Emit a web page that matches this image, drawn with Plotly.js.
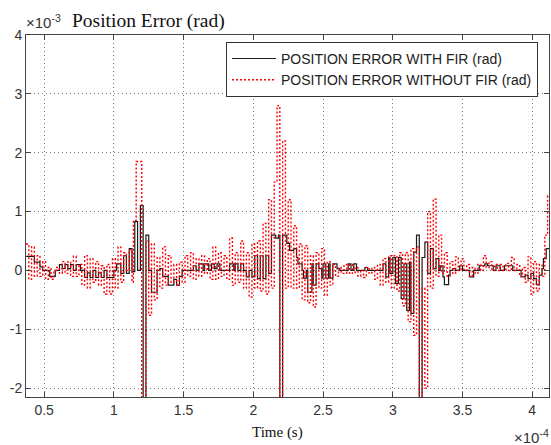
<!DOCTYPE html>
<html>
<head>
<meta charset="utf-8">
<script src="https://cdn.plot.ly/plotly-3.0.1.min.js"></script>
<style>html,body{margin:0;padding:0;background:#fff;}#chart{width:551px;height:445px;}</style>
</head>
<body>
<div id="chart"></div>
<script>
// Time in units of 1e-4 s, error in units of 1e-3 rad
var withFirTime = [
  0.37,0.43,0.47,0.49,0.54,0.58,0.61,0.63,0.65,0.67,
  0.69,0.71,0.73,0.76,0.79,0.81,0.83,0.85,0.87,0.89,
  0.91,0.93,0.95,1.00,1.02,1.05,1.07,1.09,1.11,1.13,
  1.15,1.17,1.19,1.21,1.23,1.25,1.27,1.31,1.33,1.35,
  1.39,1.43,1.45,1.47,1.49,1.57,1.59,1.61,1.64,1.65,
  1.68,1.70,1.72,1.74,1.76,1.83,1.86,1.87,1.89,1.91,
  1.93,1.95,1.97,1.99,2.01,2.03,2.05,2.07,2.09,2.11,
  2.13,2.16,2.18,2.19,2.21,2.24,2.26,2.29,2.31,2.32,
  2.35,2.36,2.38,2.39,2.42,2.43,2.45,2.47,2.49,2.50,
  2.52,2.54,2.55,2.57,2.60,2.62,2.68,2.70,2.72,2.74,
  2.80,2.82,2.93,2.95,2.97,2.98,3.00,3.02,3.04,3.06,
  3.08,3.10,3.12,3.13,3.15,3.17,3.19,3.21,3.23,3.25,
  3.27,3.29,3.31,3.33,3.34,3.36,3.37,3.40,3.41,3.43,
  3.45,3.48,3.50,3.55,3.58,3.62,3.66,3.68,3.72,3.74,
  3.77,3.80,3.86,3.92,3.95,3.97,3.99,4.01,4.03,4.05,
  4.07,4.08,4.10,4.12
];
var withFirError = [
  0.24,0.14,0.06,0,-0.1,0,0.1,0.03,0.1,0.03,
  0.1,0,0.1,0,-0.12,-0.04,-0.12,0,-0.12,-0.04,
  -0.12,0,-0.12,0,0.11,-0.05,0.25,-0.05,0.37,-0.02,
  0.83,0,1.10,-2.4,0.60,0,-0.37,0,0.03,-0.1,
  -0.25,-0.15,-0.25,-0.1,0,0.08,0,0.11,0,0.11,
  0,0.11,0.03,0.11,0,0.11,0,0.11,0,0.11,
  0,-0.11,0,-0.11,0.25,-0.14,0.25,-0.14,0.25,-0.05,
  0.60,0.55,0.60,-2.4,0.60,0.46,0.34,0.37,0.22,0.11,
  0,-0.13,0,-0.37,0.11,-0.25,0.11,0.03,-0.13,0.11,
  -0.13,0.11,-0.13,0.11,0.03,0,0.11,0,0.11,0,
  0.05,0,0.11,-0.11,0.22,-0.05,0.22,-0.22,0.22,-0.48,
  0.11,-0.68,0.14,-0.73,0.31,0.60,-2.4,0.22,0.48,-0.05,
  0.37,0.03,0.20,0,0.08,-0.11,-0.24,-0.08,0,0.03,
  0,0.08,0,-0.11,0,0.08,0.11,0.08,0,0.08,
  0,0.08,0,-0.11,-0.08,-0.14,-0.05,-0.14,-0.24,-0.08,
  0.03,0.20,0.37,0.37
];
var withoutFirTime = [
  0.37,0.39,0.41,0.43,0.45,0.47,0.49,0.51,0.53,0.55,
  0.57,0.59,0.61,0.63,0.65,0.67,0.69,0.71,0.73,0.75,
  0.77,0.79,0.81,0.83,0.85,0.87,0.89,0.91,0.93,0.95,
  0.97,0.99,1.01,1.03,1.05,1.07,1.09,1.11,1.13,1.14,
  1.16,1.20,1.23,1.25,1.27,1.29,1.31,1.33,1.35,1.37,
  1.39,1.41,1.43,1.45,1.47,1.49,1.51,1.53,1.55,1.57,
  1.59,1.61,1.63,1.65,1.67,1.69,1.71,1.73,1.75,1.77,
  1.79,1.81,1.83,1.85,1.87,1.89,1.91,1.93,1.95,1.97,
  1.99,2.01,2.03,2.05,2.07,2.09,2.11,2.13,2.15,2.17,
  2.19,2.21,2.23,2.25,2.27,2.29,2.31,2.33,2.35,2.37,
  2.39,2.41,2.43,2.45,2.47,2.49,2.51,2.53,2.55,2.57,
  2.59,2.61,2.63,2.65,2.67,2.69,2.71,2.73,2.75,2.77,
  2.79,2.81,2.83,2.85,2.87,2.89,2.91,2.93,2.95,2.97,
  2.99,3.01,3.03,3.05,3.07,3.09,3.11,3.13,3.15,3.17,
  3.19,3.21,3.23,3.25,3.27,3.29,3.31,3.33,3.35,3.37,
  3.39,3.41,3.43,3.45,3.47,3.49,3.51,3.53,3.55,3.57,
  3.59,3.61,3.63,3.65,3.67,3.69,3.71,3.73,3.75,3.77,
  3.79,3.81,3.83,3.85,3.87,3.89,3.91,3.93,3.95,3.97,
  3.99,4.01,4.03,4.05,4.07,4.09,4.11,4.12
];
var withoutFirError = [
  0.45,-0.15,0.40,-0.1,0.25,-0.1,0.15,-0.15,0.05,-0.15,
  0,0.05,-0.05,0.15,-0.05,0.15,-0.1,0.24,-0.1,0.1,
  -0.25,0.25,-0.3,0.2,-0.2,0.15,-0.25,0.08,-0.4,0.1,
  -0.4,0.2,-0.3,0.4,-0.2,0.3,0,0.35,-0.2,0.85,
  1.85,-2.4,0.5,-0.76,0.45,-0.5,0.22,-0.3,0.4,-0.25,
  0.25,-0.2,0.1,-0.25,0.14,-0.2,0.25,-0.1,0.3,-0.15,
  0.2,-0.1,0.25,-0.05,0.2,-0.15,0.4,-0.15,0.3,-0.1,
  0.25,-0.15,0.55,-0.25,0.3,-0.2,0.5,-0.3,0.3,-0.45,
  0.45,-0.3,0.5,-0.35,0.8,-0.4,1.2,-0.3,1.5,2.8,
  -2.4,2.2,-0.3,1.2,-0.3,0.76,-0.3,0.45,-0.5,0.42,
  -0.55,0.25,-0.62,0.3,-0.3,0.37,-0.42,0.15,-0.25,0.1,
  -0.1,0.05,-0.05,0.1,-0.05,0.1,-0.05,0.05,-0.1,0,
  -0.12,0.05,-0.05,0.05,-0.15,0.1,-0.25,0.2,-0.2,0.25,
  -0.3,0.25,-0.35,0.3,-0.6,0.3,-0.87,0.37,-1.1,0.4,
  -2.4,-0.3,-2.0,1.0,-0.3,1.21,-0.1,0.6,-0.05,0.3,
  -0.1,0.15,-0.05,0.23,0,0.2,0,0.1,-0.1,0.05,
  -0.05,0.1,0,0.25,0.05,0.15,0,0.1,0,0.1,
  0,0.12,0,0.22,0,0.1,-0.1,0.05,-0.2,0.23,
  -0.4,0.15,-0.35,0.1,-0.1,0.6,1.27,1.27
];
var seriesNames = ['POSITION ERROR WITH FIR (rad)', 'POSITION ERROR WITHOUT FIR (rad)'];
var xTickVals = [0.5, 1, 1.5, 2, 2.5, 3, 3.5, 4];
var xTickText = ['0.5', '1', '1.5', '2', '2.5', '3', '3.5', '4'];
var yTickVals = [-2, -1, 0, 1, 2, 3, 4];
var yTickText = ['-2', '-1', '0', '1', '2', '3', '4'];

var sans = 'Liberation Sans, Arial, sans-serif';
var serif = 'Liberation Serif, Times New Roman, serif';

var traces = [
  {
    x: withFirTime, y: withFirError, name: seriesNames[0],
    type: 'scatter', mode: 'lines',
    line: {shape: 'hv', color: '#1a1a1a', width: 1.2}
  },
  {
    x: withoutFirTime, y: withoutFirError, name: seriesNames[1],
    type: 'scatter', mode: 'lines',
    line: {shape: 'hv', color: '#ff0000', width: 1.4, dash: '2px,2px'}
  }
];

var axisCommon = {
  showline: true, linecolor: '#444', linewidth: 1, mirror: 'ticks',
  ticks: 'inside', ticklen: 5, tickcolor: '#444', tickwidth: 1,
  showgrid: true, gridcolor: '#777', gridwidth: 1, griddash: '1px,3px',
  zeroline: false,
  tickfont: {family: sans, size: 14, color: '#333'}
};

var layout = {
  width: 551, height: 445,
  margin: {l: 26, r: 2, t: 35, b: 48, pad: 0},
  paper_bgcolor: '#fff', plot_bgcolor: '#fff',
  title: {
    text: 'Position Error (rad)',
    font: {family: serif, size: 19.5, color: '#111'},
    xref: 'container', x: 72 / 551, xanchor: 'left',
    yref: 'container', y: 1 - 20 / 445, yanchor: 'middle'
  },
  xaxis: Object.assign({}, axisCommon, {
    range: [0.37, 4.12], tickmode: 'array', tickvals: xTickVals, ticktext: xTickText
  }),
  yaxis: Object.assign({}, axisCommon, {
    range: [-2.15, 4], tickmode: 'array', tickvals: yTickVals, ticktext: yTickText
  }),
  showlegend: true,
  legend: {
    x: 0.979, xanchor: 'right', y: 0.981, yanchor: 'top',
    bgcolor: '#fff', bordercolor: '#333', borderwidth: 1,
    font: {family: sans, size: 14, color: '#222'},
    itemwidth: 44, tracegroupgap: 0
  },
  annotations: [
    {text: '×10<sup>-3</sup>', xref: 'paper', yref: 'paper', x: -0.004, y: 1.036,
     xanchor: 'left', yanchor: 'middle', showarrow: false,
     font: {family: sans, size: 15, color: '#333'}},
    {text: 'Time (s)', xref: 'paper', yref: 'paper', x: 0.48, y: -0.097,
     xanchor: 'center', yanchor: 'middle', showarrow: false,
     font: {family: serif, size: 15, color: '#111'}},
    {text: '×10<sup>-4</sup>', xref: 'paper', yref: 'paper', x: 1.004, y: -0.108,
     xanchor: 'right', yanchor: 'middle', showarrow: false,
     font: {family: sans, size: 15, color: '#333'}}
  ]
};

Plotly.newPlot('chart', traces, layout, {staticPlot: true, displayModeBar: false});
</script>
</body>
</html>
